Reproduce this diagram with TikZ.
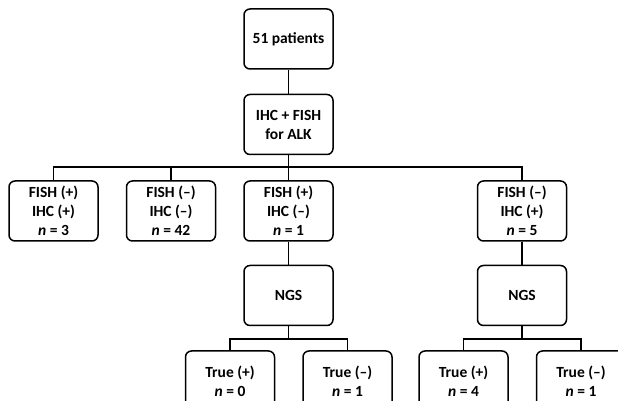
\documentclass[tikz,border=0pt]{standalone}
\usepackage{fontspec}
\setmainfont{Carlito}
\usetikzlibrary{positioning}
\newcommand{\nval}[1]{\textit{n} = #1}
\tikzset{
    box/.style={draw,rounded corners=6pt,line width=1.5pt,minimum width=89pt,minimum height=60pt,
        inner sep=2pt,align=center,font=\fontsize{15.5}{19}\selectfont\bfseries},
    link/.style={draw,line width=1.5pt},
}
\begin{document}
\begin{tikzpicture}[node distance=24pt]
    \useasboundingbox (0,0) rectangle (618pt,401pt);
    \node[box] (root) at (288.5pt,362pt) {51 patients};
    \node[box,below=of root] (test) {IHC + FISH\\for ALK};
    \node[box,below=25pt of test] (p3) {FISH (+)\\IHC (–)\\\nval{1}};
    \node[box,left=27pt of p3] (p2) {FISH (–)\\IHC (–)\\\nval{42}};
    \node[box,left=27pt of p2] (p1) {FISH (+)\\IHC (+)\\\nval{3}};
    \node[box,right=143pt of p3] (p4) {FISH (–)\\IHC (+)\\\nval{5}};
    \node[box,below=23pt of p3] (ngsa) {NGS};
    \node[box,below=23pt of p4] (ngsb) {NGS};
    \node[box,below=of ngsa,xshift=-58.5pt] (ta) {True (+)\\\nval{0}};
    \node[box,right=27pt of ta] (tb) {True (–)\\\nval{1}};
    \node[box,below=of ngsb,xshift=-58.5pt] (tc) {True (+)\\\nval{4}};
    \node[box,right=27pt of tc] (td) {True (–)\\\nval{1}};

    \path[link]
    (root) -- (test)
    (test) -- (p3)
    (p1.north) -- ++(0,13pt) -| (p4.north)
    (p2.north) -- ++(0,13pt)
    (p3) -- (ngsa)
    (p4) -- (ngsb)
    (ngsa.south) -- ++(0,-13pt)
    (ngsb.south) -- ++(0,-13pt)
    (ta.north) -- ++(0,11pt) -| (tb.north)
    (tc.north) -- ++(0,11pt) -| (td.north);
\end{tikzpicture}
\end{document}
